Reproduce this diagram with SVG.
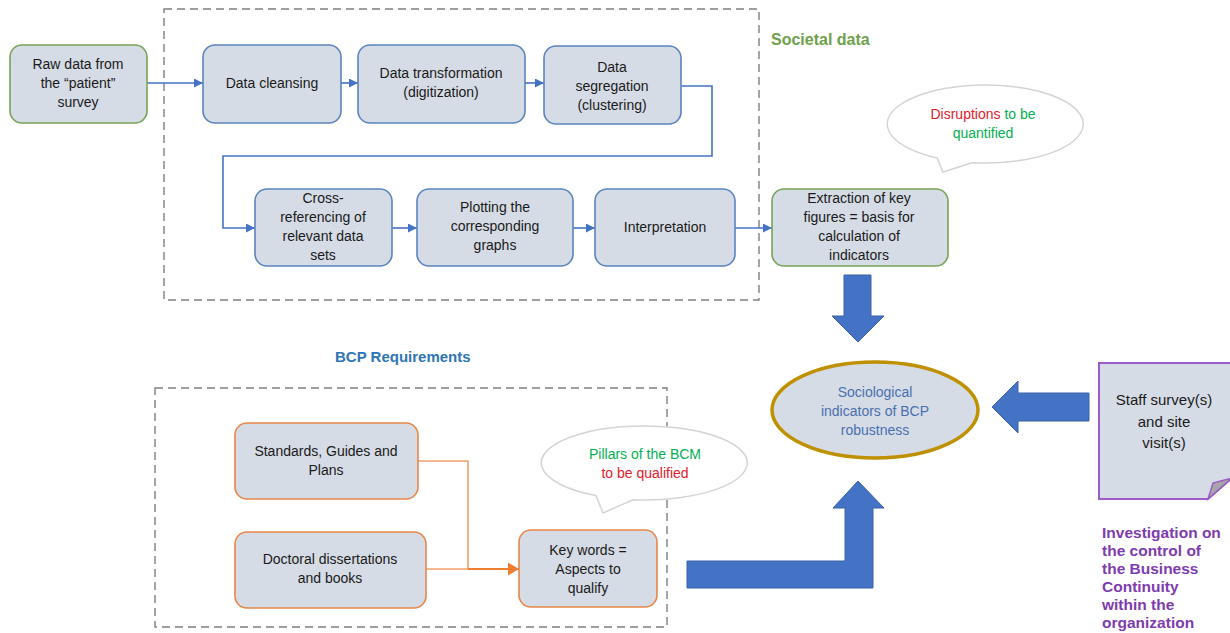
<svg xmlns="http://www.w3.org/2000/svg" width="1230" height="633" viewBox="0 0 1230 633">
<style>
.bg{fill:#ffffff}
.box{fill:#D6DCE5;stroke-width:1.6}
.blue{stroke:#5A84BD}
.green{stroke:#78A457}
.orange{stroke:#E8864A}
.t{font-family:"Liberation Sans",Arial,sans-serif;font-size:14px;fill:#1a1a1a;text-anchor:middle}
.dash{fill:none;stroke:#7f7f7f;stroke-width:1.4;stroke-dasharray:8 5}
.conn{fill:none;stroke:#4472C4;stroke-width:1.6}
.oconn{fill:none;stroke:#F2A06A;stroke-width:1.6}
.big{fill:#4472C4;stroke:#3A62A8;stroke-width:1}
.bubble{fill:#ffffff;stroke:#d4d4d4;stroke-width:1.5}
.title{font-family:"Liberation Sans",Arial,sans-serif;font-weight:bold}
</style>
<defs>
<marker id="ab" markerUnits="userSpaceOnUse" markerWidth="10" markerHeight="10" refX="9" refY="4.5" orient="auto">
<path d="M0,0 L9,4.5 L0,9 Z" fill="#4472C4"/>
</marker>
<marker id="ao" markerUnits="userSpaceOnUse" markerWidth="12" markerHeight="14" refX="11" refY="6.5" orient="auto">
<path d="M0,0 L11,6.5 L0,13 Z" fill="#ED7D31"/>
</marker>
</defs>
<rect class="bg" x="0" y="0" width="1230" height="633"/>

<g id="frames">
<rect class="dash" x="164" y="9" width="595" height="291"/>
<rect class="dash" x="155" y="388" width="512" height="239"/>
</g>

<g id="labels">
<text class="title" x="771" y="45" font-size="16" fill="#6FA04B">Societal data</text>
<text class="title" x="335" y="362" font-size="15" fill="#2E75B6">BCP Requirements</text>
<text class="title" font-size="15.5" fill="#7E3BAE"><tspan x="1102" y="538">Investigation on</tspan><tspan x="1102" y="556">the control of</tspan><tspan x="1102" y="574">the Business</tspan><tspan x="1102" y="592">Continuity</tspan><tspan x="1102" y="610">within the</tspan><tspan x="1102" y="628">organization</tspan></text>
</g>

<g id="connectors">
<path class="conn" d="M147,83 H203" marker-end="url(#ab)"/>
<path class="conn" d="M341,83 H358" marker-end="url(#ab)"/>
<path class="conn" d="M525,83 H544" marker-end="url(#ab)"/>
<path class="conn" d="M681,86 H712 V156 H223 V228 H255" marker-end="url(#ab)"/>
<path class="conn" d="M392,228 H417" marker-end="url(#ab)"/>
<path class="conn" d="M573,228 H595" marker-end="url(#ab)"/>
<path class="conn" d="M735,228 H772" marker-end="url(#ab)"/>
<path class="oconn" d="M418,461 H468 V569"/>
<path class="oconn" d="M426,569 H468"/>
<path fill="none" stroke="#ED7D31" stroke-width="2" d="M468,569 H519" marker-end="url(#ao)"/>
<polygon class="big" points="844,275 871,275 871,316 884,316 858,342 832,316 844,316"/>
<polygon class="big" points="1089,393 1018,393 1018,381 992,407 1018,433 1018,421 1089,421"/>
<polygon class="big" points="687,561 845,561 845,508 833,508 858,481 884,508 873,508 873,588 687,588"/>
</g>

<g id="raw">
<rect class="box green" x="10" y="45" width="137" height="78" rx="12"/>
<text class="t"><tspan x="78" y="69">Raw data from</tspan><tspan x="78" y="88">the “patient”</tspan><tspan x="78" y="107">survey</tspan></text>
</g>
<g id="cleansing">
<rect class="box blue" x="203" y="45" width="138" height="78" rx="12"/>
<text class="t" x="272" y="88">Data cleansing</text>
</g>
<g id="transformation">
<rect class="box blue" x="358" y="45" width="167" height="78" rx="12"/>
<text class="t"><tspan x="441" y="78">Data transformation</tspan><tspan x="441" y="97">(digitization)</tspan></text>
</g>
<g id="segregation">
<rect class="box blue" x="544" y="46" width="137" height="78" rx="12"/>
<text class="t"><tspan x="612" y="72">Data</tspan><tspan x="612" y="91">segregation</tspan><tspan x="612" y="110">(clustering)</tspan></text>
</g>
<g id="crossref">
<rect class="box blue" x="255" y="189" width="137" height="77" rx="12"/>
<text class="t"><tspan x="323" y="203">Cross-</tspan><tspan x="323" y="222">referencing of</tspan><tspan x="323" y="241">relevant data</tspan><tspan x="323" y="260">sets</tspan></text>
</g>
<g id="plotting">
<rect class="box blue" x="417" y="189" width="156" height="77" rx="12"/>
<text class="t"><tspan x="495" y="212">Plotting the</tspan><tspan x="495" y="231">corresponding</tspan><tspan x="495" y="250">graphs</tspan></text>
</g>
<g id="interpretation">
<rect class="box blue" x="595" y="189" width="140" height="77" rx="12"/>
<text class="t" x="665" y="232">Interpretation</text>
</g>
<g id="extraction">
<rect class="box green" x="772" y="189" width="176" height="77" rx="12"/>
<text class="t"><tspan x="859" y="203">Extraction of key</tspan><tspan x="859" y="222">figures = basis for</tspan><tspan x="859" y="241">calculation of</tspan><tspan x="859" y="260">indicators</tspan></text>
</g>
<g id="bubble1">
<path class="bubble" d="M937,158 A98,39 0 1,1 972,162.7 L943,172 Z"/>
<text class="t"><tspan x="983" y="119"><tspan fill="#E0202A">Disruptions</tspan><tspan fill="#00B050"> to be</tspan></tspan><tspan x="983" y="138" fill="#00B050">quantified</tspan></text>
</g>
<g id="indicators">
<ellipse cx="875" cy="410" rx="103" ry="48" fill="#D6DCE5" stroke="#BF9000" stroke-width="3.5"/>
<text class="t" style="fill:#4A6FB0"><tspan x="875" y="397">Sociological</tspan><tspan x="875" y="416">indicators of BCP</tspan><tspan x="875" y="435">robustness</tspan></text>
</g>
<g id="staff">
<path d="M1099,363 H1232 V478 L1208,499 H1099 Z" fill="#D6DCE5" stroke="#9B5BC8" stroke-width="2"/>
<path d="M1208,499 L1213,483 L1232,478 Z" fill="#A6A6A6" stroke="#9B5BC8" stroke-width="1.5"/>
<text class="t" style="font-size:15px"><tspan x="1164" y="405">Staff survey(s)</tspan><tspan x="1164" y="427">and site</tspan><tspan x="1164" y="448">visit(s)</tspan></text>
</g>
<g id="standards">
<rect class="box orange" x="235" y="423" width="183" height="76" rx="12"/>
<text class="t"><tspan x="326" y="456">Standards, Guides and</tspan><tspan x="326" y="475">Plans</tspan></text>
</g>
<g id="doctoral">
<rect class="box orange" x="235" y="532" width="191" height="76" rx="12"/>
<text class="t"><tspan x="330" y="564">Doctoral dissertations</tspan><tspan x="330" y="583">and books</tspan></text>
</g>
<g id="keywords">
<rect class="box orange" x="519" y="530" width="138" height="77" rx="12"/>
<text class="t"><tspan x="588" y="555">Key words =</tspan><tspan x="588" y="574">Aspects to</tspan><tspan x="588" y="593">qualify</tspan></text>
</g>
<g id="bubble2">
<path class="bubble" d="M596,495.6 A103,37 0 1,1 633,499.7 L603,513 Z"/>
<text class="t"><tspan x="645" y="459" fill="#00B050">Pillars of the BCM</tspan><tspan x="645" y="478" fill="#E0202A">to be qualified</tspan></text>
</g>
</svg>
